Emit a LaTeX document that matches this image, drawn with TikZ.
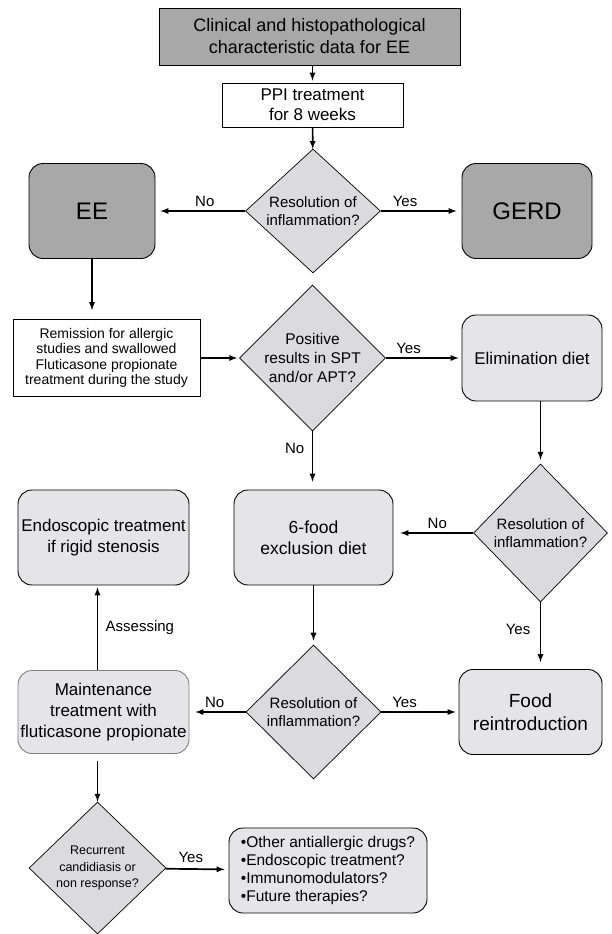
\documentclass[tikz,border=0pt]{standalone}
\usepackage{fontspec}
\setmainfont{Liberation Sans}
\usetikzlibrary{arrows,positioning,shapes.geometric}
\definecolor{darkbox}{RGB}{168,168,168}
\definecolor{lightbox}{RGB}{229,229,231}
\definecolor{diafill}{RGB}{219,219,221}
\newcommand{\fs}[2]{\fontsize{#1}{#2}\selectfont}

\begin{document}
\begin{tikzpicture}[x=1pt,y=-1pt,>=latex,
  sq/.style={rectangle,draw=black,line width=0.9pt,align=center,inner sep=2pt},
  rbox/.style={rectangle,rounded corners=14pt,draw=black,line width=0.9pt,fill=lightbox,align=center,inner sep=2pt},
  dbox/.style={rbox,fill=darkbox},
  dec/.style={diamond,draw=black,line width=0.7pt,fill=diafill,align=center,inner sep=0pt},
  flow/.style={->,line width=1.7pt},
  lbl/.style={font=\fs{15}{18}}]
\useasboundingbox (0,0) rectangle (612,934);
% top row
\node (top) [sq,fill=darkbox,minimum width=301,minimum height=57,font=\fs{18}{22}] at (309.5,36.5) {Clinical and histopathological\\characteristic data for EE};
\node (ppi) [sq,fill=white,minimum width=181,minimum height=44,font=\fs{17}{20}] at (312.5,105) {PPI treatment\\for 8 weeks};
\node (d1) [dec,minimum width=135,minimum height=124,font=\fs{15}{18}] at (313,211) {Resolution of\\inflammation?};
\node (ee) [dbox,minimum width=126,minimum height=95,font=\fs{24}{28}] at (92,211) {EE};
\node (gerd) [dbox,minimum width=130,minimum height=95,font=\fs{24}{28}] at (527,211) {GERD};
%
\node (rem) [sq,fill=white,minimum width=187,minimum height=77,font=\fs{14}{15.5}] at (106.5,358) {Remission for allergic\\studies and swallowed\\Fluticasone propionate\\treatment during the study};
\node (d2) [dec,minimum width=137,minimum height=126,font=\fs{15.5}{19}] at (312.5,358) {Positive\\results in SPT\\and/or APT?};
\node (elim) [rbox,minimum width=140,minimum height=86,font=\fs{17}{21}] at (532,358) {Elimination diet};
%
\node (endo) [rbox,minimum width=171,minimum height=95,font=\fs{17}{21}] at (103.5,537.5) {Endoscopic treatment\\if rigid stenosis};
\node (six) [rbox,minimum width=159,minimum height=95,font=\fs{17.5}{21}] at (313.5,537.5) {6-food\\exclusion diet};
\node (d3) [dec,minimum width=134,minimum height=138,font=\fs{15}{18}] at (540.5,533) {Resolution of\\inflammation?};
%
\node (maint) [rbox,draw=black!50,minimum width=171,minimum height=83,font=\fs{17}{21}] at (103.5,712) {Maintenance\\treatment with\\fluticasone propionate};
\node (d4) [dec,minimum width=135,minimum height=134,font=\fs{15}{18}] at (313.5,712) {Resolution of\\inflammation?};
\node (food) [rbox,minimum width=143,minimum height=85,font=\fs{19}{23}] at (530.5,712) {Food\\reintroduction};
%
\node (d5) [dec,minimum width=137,minimum height=132,font=\fs{12.5}{16.5}] at (97.5,868) {Recurrent\\candidiasis or\\non response?};
\node (more) [rbox,align=left,minimum width=198,minimum height=85,font=\fs{15.5}{17.7}] at (328,870.5) {•Other antiallergic drugs?\\•Endoscopic treatment?\\•Immunomodulators?\\•Future therapies?};
%
\path[flow] (ppi.north |- top.south) edge[shorten >=2pt] (ppi.north);
\path[flow] (ppi) edge (d1);
\path[flow] (d1) edge[shorten >=5pt] node[lbl,above,pos=0.45] {No} (ee);
\path[flow] (d1) edge[shorten >=5pt] node[lbl,above,pos=0.3] {Yes} (gerd);
\path[flow] (ee.south) edge[shorten >=9pt] (ee.south |- rem.north);
\path[flow] (rem) edge[shorten >=2pt] (d2);
\path[flow] (d2) edge[shorten >=3pt] node[lbl,above,pos=0.3] {Yes} (elim);
\path[flow] (d2.south) edge[shorten >=8pt] node[lbl,left,pos=0.3,xshift=-4pt] {No} (d2.south |- six.north);
\path[flow] (d3.north |- elim.south) edge[shorten >=4pt] (d3.north);
\path[flow] (d3.west) edge[shorten >=7pt] node[lbl,above,pos=0.45] {No} (d3.west -| six.east);
\path[flow] (d3.south) edge[shorten >=7pt] node[lbl,left,pos=0.4,xshift=-6pt] {Yes} (d3.south |- food.north);
\path[flow] (six) edge[shorten >=4pt] (d4);
\path[flow] (d4) edge[shorten >=6pt] node[lbl,above,pos=0.55] {No} (maint);
\path[flow] (d4) edge[shorten >=3pt] node[lbl,above,pos=0.3] {Yes} (food);
\path[flow] (maint.north -| d5.north) edge[shorten >=2pt] node[lbl,right,xshift=4pt] {Assessing} (endo.south -| d5.north);
\path[flow] (maint.south -| d5.north) edge[shorten <=7pt] (d5);
\path[flow] (d5) edge[shorten >=4pt] node[lbl,above,pos=0.4,yshift=2pt] {Yes} (more);
\end{tikzpicture}
\end{document}
